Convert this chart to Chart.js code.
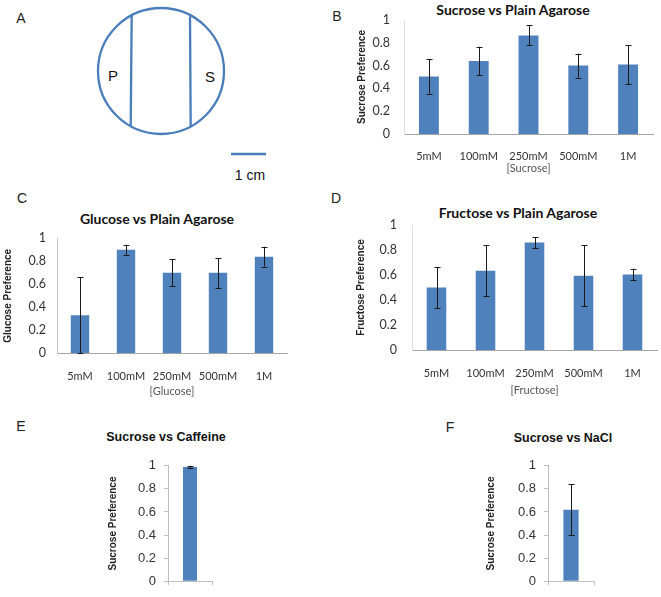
<!DOCTYPE html>
<html>
<head>
<meta charset="utf-8">
<script src="https://cdn.jsdelivr.net/npm/chart.js@4.4.0/dist/chart.umd.min.js"></script>
<style>
  html, body { margin: 0; padding: 0; background: #fff; width: 661px; height: 597px; overflow: hidden; position: relative; }
  canvas, svg, .lbl, .ttl { position: absolute; }
  .lbl { font: 14px "Liberation Sans", Arial, sans-serif; color: #222; line-height: 1; transform: translate(-50%, -50%); }
  .ttl { font-weight: bold; white-space: nowrap; color: #111; line-height: 1; transform: translate(-50%, -50%); }
  .cal { font-family: Lato, sans-serif; font-size: 14px; }
  .ari { font-family: "Liberation Sans", Arial, sans-serif; font-size: 12.5px; }
</style>
</head>
<body>

<svg width="300" height="190" style="left:0;top:0">
  <circle cx="161" cy="71" r="63" fill="none" stroke="#4a7ebb" stroke-width="2.3"/>
  <line x1="131.7" y1="15.8" x2="130.7" y2="126.4" stroke="#4a7ebb" stroke-width="2.3"/>
  <line x1="190" y1="16.2" x2="190.7" y2="126.6" stroke="#4a7ebb" stroke-width="2.3"/>
  <line x1="231" y1="154" x2="266" y2="154" stroke="#4a7ebb" stroke-width="2.5"/>
  <text x="113" y="81" font-family="Liberation Sans, Arial" font-size="15" text-anchor="middle" fill="#111">P</text>
  <text x="210" y="82" font-family="Liberation Sans, Arial" font-size="15" text-anchor="middle" fill="#111">S</text>
  <text x="250" y="180" font-family="Liberation Sans, Arial" font-size="14" text-anchor="middle" fill="#111">1 cm</text>
</svg>

<div class="lbl" style="left:21px;top:18px">A</div>
<div class="lbl" style="left:337px;top:16px">B</div>
<div class="lbl" style="left:22px;top:198px">C</div>
<div class="lbl" style="left:336px;top:198px">D</div>
<div class="lbl" style="left:21px;top:426px">E</div>
<div class="lbl" style="left:450px;top:427px">F</div>

<div class="ttl cal" style="left:513px;top:10px">Sucrose vs Plain Agarose</div>
<div class="ttl cal" style="left:157px;top:219px">Glucose vs Plain Agarose</div>
<div class="ttl cal" style="left:518px;top:213px">Fructose vs Plain Agarose</div>
<div class="ttl ari" style="left:166px;top:437px">Sucrose vs Caffeine</div>
<div class="ttl ari" style="left:563px;top:438px">Sucrose vs NaCl</div>

<canvas id="chartB" width="311" height="179" style="left:350px;top:0px"></canvas>
<canvas id="chartC" width="300" height="212" style="left:0px;top:190px"></canvas>
<canvas id="chartD" width="311" height="211" style="left:350px;top:190px"></canvas>
<canvas id="chartE" width="130" height="147" style="left:100px;top:450px"></canvas>
<canvas id="chartF" width="132" height="147" style="left:480px;top:450px"></canvas>

<script>
// data
var concLabels = ['5mM', '100mM', '250mM', '500mM', '1M'];
var prefTicks = [0, 0.2, 0.4, 0.6, 0.8, 1];

var sucroseMeans = [0.505, 0.64, 0.865, 0.60, 0.61];
var sucroseErr = [0.15, 0.125, 0.087, 0.105, 0.17];

var glucoseMeans = [0.33, 0.90, 0.70, 0.70, 0.84];
var glucoseErr = [0.33, 0.044, 0.116, 0.13, 0.087];

var fructoseMeans = [0.50, 0.635, 0.86, 0.595, 0.605];
var fructoseErr = [0.164, 0.205, 0.044, 0.244, 0.045];

var caffeineMean = [0.99];
var caffeineErr = [0.01];

var naclMean = [0.62];
var naclErr = [0.22];

var barBlue = '#4f81bd';
var calibri = 'Lato, sans-serif';
var arial = '"Liberation Sans", Arial, sans-serif';

// error bars drawn from the data through the y scale
var errorBars = {
  id: 'errorBars',
  afterDatasetsDraw: function (chart, args, opts) {
    var errs = opts.errors;
    if (!errs) return;
    var y = chart.scales.y;
    var vals = chart.data.datasets[0].data;
    var ctx = chart.ctx;
    ctx.save();
    ctx.strokeStyle = '#1a1a1a';
    ctx.lineWidth = 1;
    chart.getDatasetMeta(0).data.forEach(function (bar, i) {
      var hi = y.getPixelForValue(vals[i] + errs[i]);
      var lo = y.getPixelForValue(Math.max(vals[i] - errs[i], 0));
      var x = Math.round(bar.x) + 0.5;
      ctx.beginPath();
      ctx.moveTo(x, hi); ctx.lineTo(x, lo);
      ctx.moveTo(x - 3, Math.round(hi) + 0.5); ctx.lineTo(x + 3, Math.round(hi) + 0.5);
      ctx.moveTo(x - 3, Math.round(lo) + 0.5); ctx.lineTo(x + 3, Math.round(lo) + 0.5);
      ctx.stroke();
    });
    ctx.restore();
  }
};

function fixTicks(scale) {
  scale.ticks = prefTicks.map(function (v) { return { value: v }; });
}

function plainNum(v) {
  return String(v);
}

// the three concentration panels (B, C, D)
function concChart(id, means, errs, s) {
  return new Chart(document.getElementById(id), {
    type: 'bar',
    data: {
      labels: concLabels,
      datasets: [{ data: means, backgroundColor: barBlue, borderWidth: 0,
                   categoryPercentage: 1, barPercentage: 0.4 }]
    },
    options: {
      responsive: false,
      animation: false,
      events: [],
      layout: { padding: s.padding },
      plugins: { legend: { display: false }, tooltip: { enabled: false },
                 errorBars: { errors: errs } },
      scales: {
        x: {
          grid: { display: false },
          border: { display: true, color: '#a6a6a6' },
          ticks: { padding: s.xTickPad, color: '#333', font: { family: calibri, size: 11 } },
          title: { display: true, text: s.xTitle, color: '#555',
                   padding: { top: 0, bottom: s.xTitlePad }, font: { family: calibri, size: 11 } },
          afterFit: function (sc) { sc.height = s.xHeight; }
        },
        y: {
          min: 0, max: 1,
          afterBuildTicks: fixTicks,
          grid: { display: false },
          border: { display: true, color: s.yLine },
          ticks: { padding: s.yTickPad, color: '#333', callback: plainNum,
                   font: { family: calibri, size: 12.5 } },
          title: { display: true, text: s.yTitle, color: '#222',
                   padding: { top: s.yTitlePad, bottom: 0 }, font: { family: arial, size: 10, weight: 'bold' } },
          afterFit: function (sc) { sc.width = s.yWidth; }
        }
      }
    },
    plugins: [errorBars]
  });
}

// the single-bar panels (E, F)
function singleChart(id, mean, err, s) {
  return new Chart(document.getElementById(id), {
    type: 'bar',
    data: {
      labels: [''],
      datasets: [{ data: mean, backgroundColor: barBlue, borderWidth: 0,
                   categoryPercentage: 1, barPercentage: s.barPct }]
    },
    options: {
      responsive: false,
      animation: false,
      events: [],
      layout: { padding: s.padding },
      plugins: { legend: { display: false }, tooltip: { enabled: false },
                 errorBars: { errors: err } },
      scales: {
        x: {
          grid: { display: true, drawOnChartArea: false, tickLength: 4, color: '#bfbfbf', offset: true },
          border: { display: true, color: '#bfbfbf' },
          ticks: { display: false },
          afterFit: function (sc) { sc.height = s.xHeight; }
        },
        y: {
          min: 0, max: 1,
          afterBuildTicks: fixTicks,
          grid: { display: true, drawOnChartArea: false, tickLength: 4, color: '#bfbfbf' },
          border: { display: true, color: '#bfbfbf' },
          ticks: { padding: 8, color: '#333', callback: plainNum, font: { family: arial, size: 13 } },
          title: { display: true, text: 'Sucrose Preference', color: '#222',
                   padding: { top: s.yTitlePad, bottom: 0 }, font: { family: arial, size: 10, weight: 'bold' } },
          afterFit: function (sc) { sc.width = 68; }
        }
      }
    },
    plugins: [errorBars]
  });
}

concChart('chartB', sucroseMeans, sucroseErr, {
  xTitle: '[Sucrose]', yTitle: 'Sucrose Preference',
  padding: { left: 0, top: 20, right: 8, bottom: 0 },
  xHeight: 45, yWidth: 54, xTickPad: 7.8, xTitlePad: 4.4, yTickPad: 6, yTitlePad: 6, yLine: '#dedede'
});

concChart('chartC', glucoseMeans, glucoseErr, {
  xTitle: '[Glucose]', yTitle: 'Glucose Preference',
  padding: { left: 0, top: 48.3, right: 13, bottom: 0 },
  xHeight: 48.7, yWidth: 57, xTickPad: 8.8, xTitlePad: 3.7, yTickPad: 3, yTitlePad: 2, yLine: '#c4c4c4'
});

concChart('chartD', fructoseMeans, fructoseErr, {
  xTitle: '[Fructose]', yTitle: 'Fructose Preference',
  padding: { left: 0, top: 35, right: 4, bottom: 0 },
  xHeight: 51, yWidth: 62, xTickPad: 8.4, xTitlePad: 4.4, yTickPad: 7, yTitlePad: 5.5, yLine: '#dedede'
});

singleChart('chartE', caffeineMean, caffeineErr, {
  padding: { left: 0, top: 14.3, right: 18, bottom: 0 },
  xHeight: 9.7, yTitlePad: 7.5, barPct: 0.32
});

singleChart('chartF', naclMean, naclErr, {
  padding: { left: 0, top: 12.3, right: 18, bottom: 0 },
  xHeight: 11.3, yTitlePad: 5, barPct: 0.33
});
</script>
</body>
</html>
